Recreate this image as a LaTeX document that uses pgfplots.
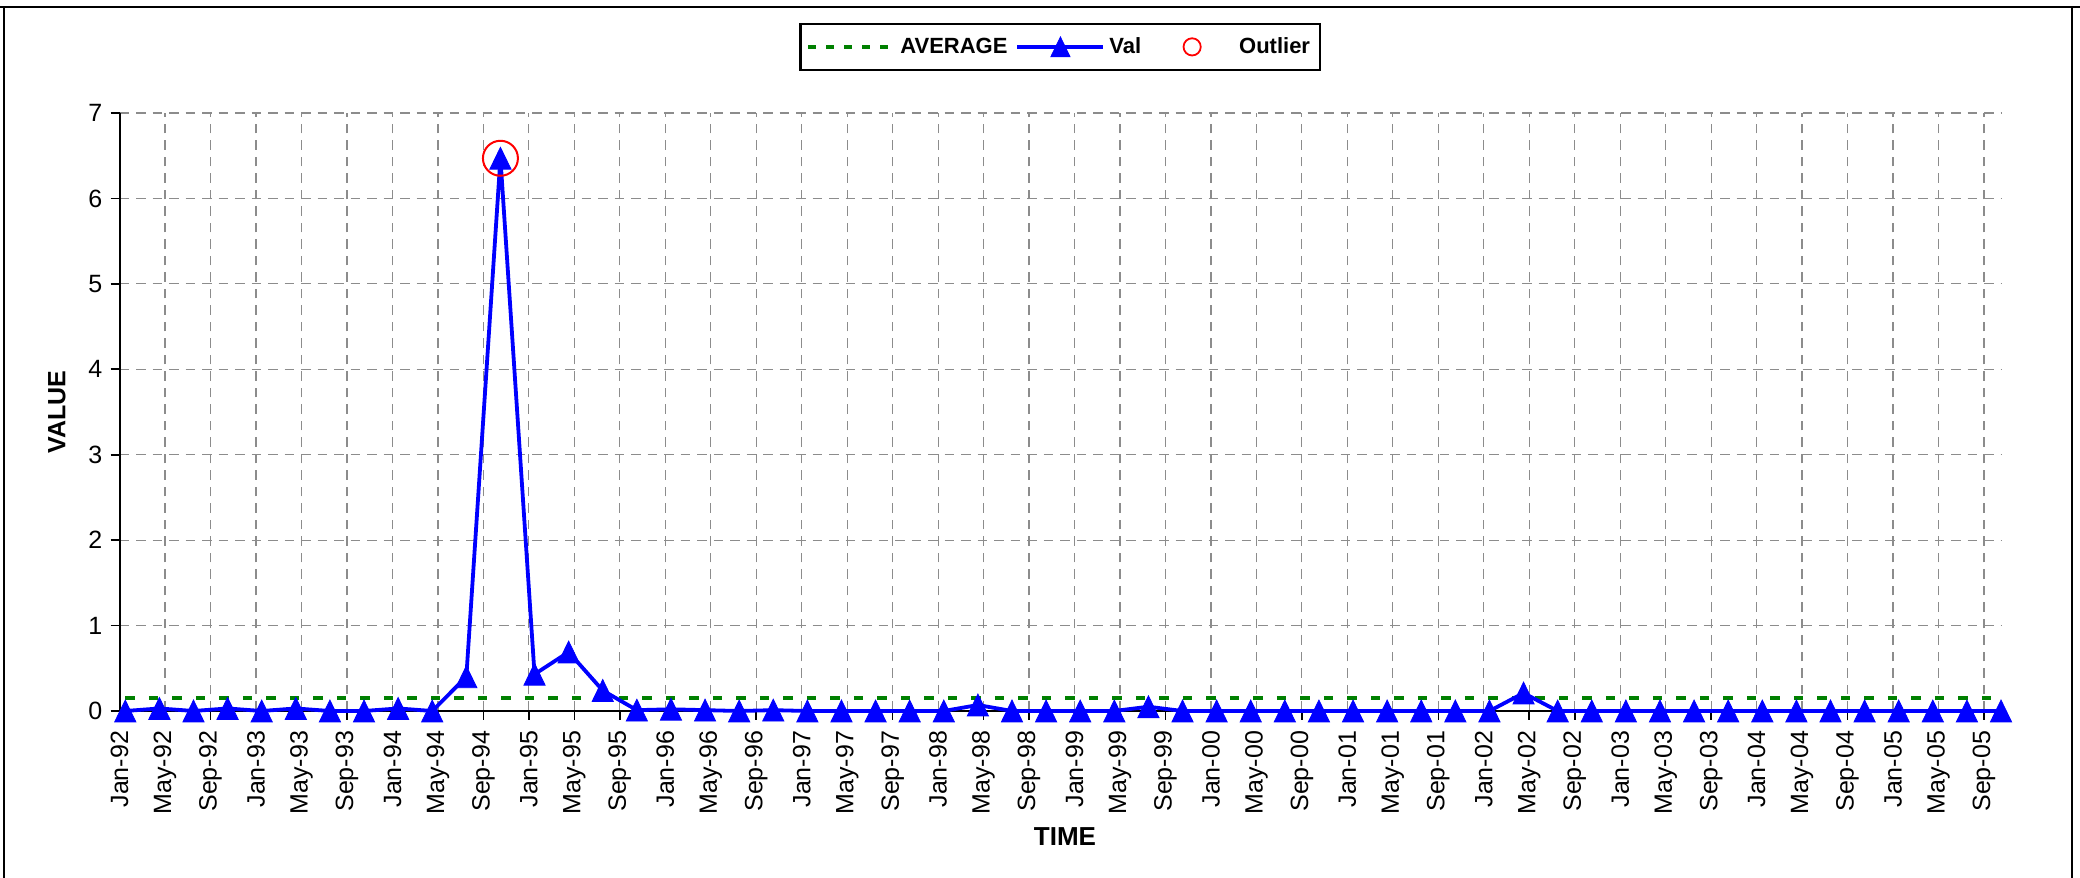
\documentclass[border=0pt]{standalone}
\usepackage{fontspec}
\setmainfont{Liberation Sans}
\usepackage{pgfplots}
\pgfplotsset{compat=1.18}
\definecolor{avggreen}{RGB}{0,128,0}
\definecolor{gridgray}{RGB}{140,140,140}
\pgfdeclareplotmark{etri}{%
  \pgfpathmoveto{\pgfqpoint{0pt}{1.03\pgfplotmarksize}}%
  \pgfpathlineto{\pgfqpoint{\pgfplotmarksize}{-1.03\pgfplotmarksize}}%
  \pgfpathlineto{\pgfqpoint{-\pgfplotmarksize}{-1.03\pgfplotmarksize}}%
  \pgfpathclose
  \pgfusepathqfillstroke}
\pgfplotstableread{
t v
0.5 0
3.5 0.03
6.5 0
9.5 0.03
12.5 0
15.5 0.03
18.5 0
21.5 0
24.5 0.03
27.5 0
30.5 0.40
33.5 6.47
36.5 0.43
39.5 0.69
42.5 0.24
45.5 0.01
48.5 0.02
51.5 0.01
54.5 0
57.5 0.01
60.5 0
63.5 0
66.5 0
69.5 0
72.5 0
75.5 0.07
78.5 0
81.5 0
84.5 0
87.5 0
90.5 0.05
93.5 0
96.5 0
99.5 0
102.5 0
105.5 0
108.5 0
111.5 0
114.5 0
117.5 0
120.5 0
123.5 0.21
126.5 0
129.5 0
132.5 0
135.5 0
138.5 0
141.5 0
144.5 0
147.5 0
150.5 0
153.5 0
156.5 0
159.5 0
162.5 0
165.5 0
}\valdata
\begin{document}
\begin{tikzpicture}
\useasboundingbox (0,0) rectangle (1040pt,438.5pt);
\draw[line width=1pt] (0,435.2pt) -- (1040pt,435.2pt);
\draw[line width=1pt] (1.75pt,435.2pt) -- (1.75pt,-2pt);
\draw[line width=1pt] (1036pt,435.2pt) -- (1036pt,-2pt);
\begin{axis}[
  at={(59.8pt,83pt)}, anchor=south west,
  scale only axis, width=940.7pt, height=299pt,
  xmin=0, xmax=165.5, ymin=0, ymax=7,
  axis lines=left,
  axis line style={-, black, line width=1pt},
  clip=false,
  tick align=outside,
  major tick length=4.5pt,
  tick style={black, line width=0.8pt},
  grid=major,
  major grid style={gridgray, line width=0.6pt, dash pattern=on 4.75pt off 3.5pt},
  xtick={0,4,...,164},
  xticklabels={Jan-92,May-92,Sep-92,Jan-93,May-93,Sep-93,Jan-94,May-94,Sep-94,Jan-95,May-95,Sep-95,Jan-96,May-96,Sep-96,Jan-97,May-97,Sep-97,Jan-98,May-98,Sep-98,Jan-99,May-99,Sep-99,Jan-00,May-00,Sep-00,Jan-01,May-01,Sep-01,Jan-02,May-02,Sep-02,Jan-03,May-03,Sep-03,Jan-04,May-04,Sep-04,Jan-05,May-05,Sep-05},
  xticklabel style={rotate=90, anchor=east, inner sep=0pt, font=\fontsize{12.5}{14}\selectfont},
  xticklabel shift=5.3pt,
  ytick={0,1,...,7},
  yticklabel style={anchor=east, inner sep=0pt, font=\fontsize{12.5}{14}\selectfont},
  yticklabel shift=4pt,
  /pgf/number format/assume math mode=true,
  xlabel={TIME}, ylabel={VALUE},
  xlabel style={at={(axis description cs:0.5025,-0.2102)}, anchor=center, font=\bfseries\fontsize{13}{15}\selectfont},
  ylabel style={at={(axis description cs:-0.0333,0.5)}, anchor=center, rotate=0, font=\bfseries\fontsize{12.5}{15}\selectfont},
  legend columns=3,
  legend style={at={(0.5,1.151)}, anchor=north, draw=black, line width=1.2pt,
    font=\bfseries\fontsize{11}{13}\selectfont, inner xsep=3pt, inner ysep=4.75pt,
    /tikz/every even column/.append style={column sep=2pt}},
  legend image code/.code={\path[draw=none,fill=none] (0pt,-5pt) rectangle (43pt,5pt);\draw[mark repeat=2,mark phase=2,#1] plot coordinates {(0pt,0pt) (21.5pt,0pt) (43pt,0pt)};},
]
\addplot[avggreen, line width=1.9pt, dash pattern=on 4.75pt off 7pt, forget plot] coordinates {(0.5,0.156) (165.5,0.156)};
\addplot[blue, line width=1.9pt, mark=etri, mark size=5.3pt, mark options={solid, fill=blue, line width=0.4pt}, forget plot] table[x=t,y=v] {\valdata};
\addplot[red, only marks, mark=o, mark size=8.75pt, mark options={line width=1pt}, forget plot] coordinates {(33.5,6.47)};
\addlegendimage{avggreen, line width=1.9pt, dash pattern=on 4pt off 5pt}
\addlegendentry{AVERAGE}
\addlegendimage{blue, line width=1.9pt, mark=etri, mark size=4.8pt, mark options={solid, fill=blue, line width=0.4pt}}
\addlegendentry{Val}
\addlegendimage{red, only marks, mark=o, mark size=4.3pt, mark options={line width=0.9pt}}
\addlegendentry{Outlier}
\end{axis}
\end{tikzpicture}
\end{document}
